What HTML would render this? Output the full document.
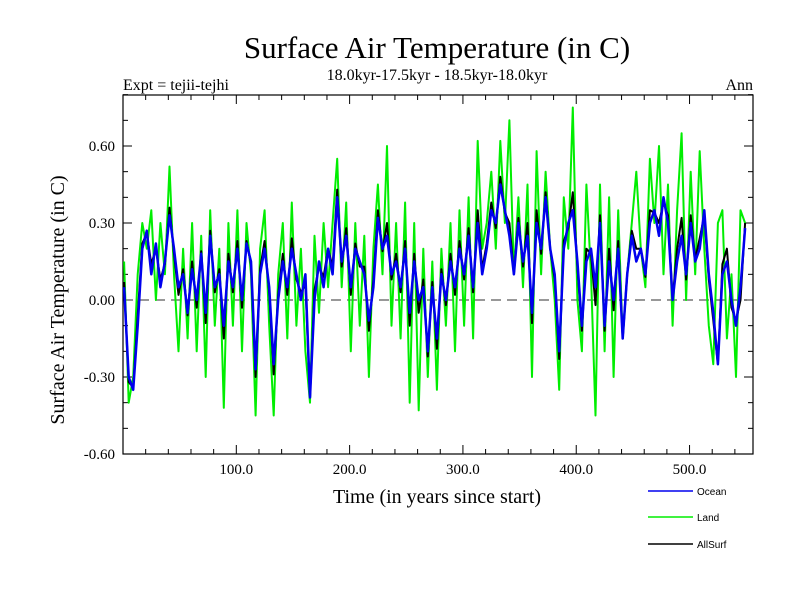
<!DOCTYPE html>
<html><head><meta charset="utf-8"><style>
body{margin:0;background:#fff;}
svg text{font-family:"Liberation Serif",serif;}
</style></head><body>
<svg id="c" width="800" height="600" xmlns="http://www.w3.org/2000/svg">
<text x="437" y="58" font-size="31" text-anchor="middle">Surface Air Temperature (in C)</text>
<text x="437" y="80" font-size="16" text-anchor="middle">18.0kyr-17.5kyr - 18.5kyr-18.0kyr</text>
<text x="123" y="90" font-size="16">Expt = tejii-tejhi</text>
<text x="753" y="90" font-size="16" text-anchor="end">Ann</text>
<text x="437" y="503" font-size="20" text-anchor="middle">Time (in years since start)</text>
<text transform="translate(64,300) rotate(-90)" font-size="20" text-anchor="middle">Surface Air Temperature (in C)</text>
<g id="axes"></g>
<g id="series"></g>
<g id="legend"></g>
</svg>
<script>
const yTicks=[0.6,0.3,0.0,-0.3,-0.6];
const yTickLabels=["0.60","0.30","0.00","-0.30","-0.60"];
const xTicks=[100,200,300,400,500];
const xTickLabels=["100.0","200.0","300.0","400.0","500.0"];
const startYear=1, stepYears=4;
const ocean=[0.05,-0.3,-0.35,-0.1,0.2,0.27,0.1,0.22,0.05,0.15,0.33,0.2,0.05,0.1,-0.05,0.12,0.0,0.18,-0.05,0.25,0.05,0.1,-0.1,0.15,0.05,0.2,0.0,0.22,0.15,-0.27,0.1,0.2,0.05,-0.25,0.0,0.15,0.05,0.2,0.1,0.0,0.1,-0.38,0.0,0.15,0.05,0.2,0.1,0.4,0.15,0.25,0.05,0.2,0.15,0.1,-0.08,0.05,0.32,0.2,0.25,0.1,0.15,0.05,0.2,-0.05,0.15,0.0,0.05,-0.2,0.05,-0.15,0.1,0.0,0.15,0.05,0.2,0.1,0.25,0.05,0.3,0.1,0.2,0.35,0.3,0.45,0.35,0.25,0.1,0.3,0.15,0.25,-0.05,0.3,0.2,0.4,0.2,0.1,-0.2,0.2,0.3,0.35,0.15,-0.1,0.15,0.2,0.05,0.3,-0.1,0.15,0.0,0.2,-0.15,0.1,0.25,0.15,0.2,0.1,0.3,0.35,0.25,0.4,0.3,0.0,0.15,0.25,0.1,0.3,0.15,0.2,0.35,0.1,-0.05,-0.25,0.1,0.15,0.0,-0.1,0.05,0.28];
const land=[0.15,-0.4,-0.3,0.1,0.3,0.2,0.35,0.0,0.3,0.1,0.52,0.1,-0.2,0.2,-0.15,0.3,-0.2,0.25,-0.3,0.35,-0.1,0.2,-0.42,0.3,-0.1,0.35,-0.2,0.3,0.1,-0.45,0.2,0.35,-0.1,-0.45,0.1,0.3,-0.15,0.38,-0.1,0.2,-0.2,-0.4,0.25,-0.05,0.3,0.05,0.3,0.55,0.05,0.38,-0.2,0.3,-0.1,0.25,-0.3,0.2,0.45,0.1,0.6,-0.1,0.3,-0.15,0.38,-0.4,0.3,-0.43,0.2,-0.3,0.15,-0.35,0.2,-0.1,0.3,-0.2,0.35,-0.1,0.4,-0.15,0.62,0.2,0.3,0.5,0.2,0.62,0.3,0.7,0.1,0.4,0.05,0.45,-0.3,0.58,0.1,0.5,0.2,0.0,-0.35,0.4,0.2,0.75,0.0,-0.2,0.45,0.1,-0.45,0.45,-0.2,0.4,-0.3,0.35,-0.15,0.1,0.3,0.5,0.2,0.05,0.55,0.3,0.6,0.1,0.45,-0.1,0.35,0.65,0.0,0.5,0.1,0.58,0.2,-0.1,-0.25,0.3,0.35,-0.15,0.1,-0.3,0.35,0.3];
const allSurf=[0.07,-0.32,-0.34,-0.06,0.22,0.26,0.14,0.2,0.08,0.14,0.36,0.18,0.02,0.12,-0.06,0.15,-0.03,0.19,-0.09,0.27,0.03,0.12,-0.15,0.18,0.03,0.23,-0.03,0.23,0.14,-0.3,0.12,0.23,0.03,-0.29,0.02,0.18,0.02,0.24,0.08,0.03,0.06,-0.38,0.04,0.13,0.09,0.2,0.13,0.43,0.13,0.28,0.02,0.22,0.13,0.13,-0.12,0.08,0.35,0.19,0.3,0.08,0.18,0.03,0.23,-0.1,0.18,-0.05,0.08,-0.22,0.07,-0.19,0.12,-0.02,0.18,0.02,0.23,0.08,0.28,0.03,0.35,0.12,0.22,0.38,0.28,0.48,0.34,0.3,0.1,0.32,0.13,0.3,-0.09,0.35,0.18,0.42,0.2,0.08,-0.23,0.23,0.28,0.42,0.13,-0.12,0.2,0.18,-0.02,0.33,-0.12,0.2,-0.04,0.23,-0.15,0.1,0.27,0.2,0.2,0.09,0.35,0.34,0.3,0.38,0.33,0.0,0.2,0.32,0.08,0.33,0.16,0.24,0.33,0.08,-0.08,-0.25,0.14,0.2,-0.03,-0.08,0.0,0.3];
const L=123,R=753,T=95,B=454;
const sx=y=>L+(y)*(R-L)/556;
const sy=v=>300-v*(154/0.6);
const NS="http://www.w3.org/2000/svg";
function mk(tag,attrs,parent){const e=document.createElementNS(NS,tag);for(const k in attrs)e.setAttribute(k,attrs[k]);parent.appendChild(e);return e;}
const ax=document.getElementById('axes');
for(let v=-0.6;v<=0.801;v+=0.1){const y=sy(v);const maj=Math.abs(Math.round(v*10)%3)===0;const len=maj?9:5;
 const t1=mk('line',{x1:L,x2:L+len,y1:y,y2:y,stroke:'#000','stroke-width':1},ax);
 
 
 const t2=mk('line',{x1:R,x2:R-len,y1:y,y2:y,stroke:'#000','stroke-width':1},ax);
 
 }
yTicks.forEach((v,i)=>{const t=mk('text',{x:L-8,y:sy(v)+5,'font-size':15,'text-anchor':'end'},ax);t.textContent=yTickLabels[i];
 
 });
for(let yr=20;yr<556;yr+=20){const x=sx(yr);const maj=yr%100===0;const len=maj?9:5;
 const t1=mk('line',{x1:x,x2:x,y1:B,y2:B-len,stroke:'#000'},ax);
 
 
 const t2=mk('line',{x1:x,x2:x,y1:T,y2:T+len,stroke:'#000'},ax);
 
 }
xTicks.forEach((v,i)=>{const t=mk('text',{x:sx(v),y:B+20,'font-size':15,'text-anchor':'middle'},ax);t.textContent=xTickLabels[i];
 
 });
const zl=mk('line',{x1:L,x2:R,y1:sy(0),y2:sy(0),stroke:'#777','stroke-width':1.5,'stroke-dasharray':'10,6'},ax);


const fr=mk('rect',{x:L,y:T,width:R-L,height:B-T,fill:'none',stroke:'#000','stroke-width':1.2},ax);


const sg=document.getElementById('series');
function draw(arr,color,name,w){const pts=arr.map((v,i)=>sx(startYear+i*stepYears).toFixed(1)+','+sy(v).toFixed(1)).join(' ');
 const p=mk('polyline',{points:pts,fill:'none',stroke:color,'stroke-width':w,'stroke-linejoin':'round'},sg);
 
 }
draw(land,'#00ee00','land-line',2);
draw(allSurf,'#000','allsurf-line',2);
draw(ocean,'#0000ee','ocean-line',2.5);
const lg=document.getElementById('legend');
[['Ocean','#0000ee',491],['Land','#00ee00',517],['AllSurf','#000',544]].forEach(([n,c,y])=>{
 const l=mk('line',{x1:648,x2:693,y1:y,y2:y,stroke:c,'stroke-width':1.5},lg);
 
 
 const t=mk('text',{x:697,y:y+4,'font-size':10,style:'font-family:"Liberation Sans",sans-serif'},lg);t.textContent=n;
 
 });
</script>
</body></html>
